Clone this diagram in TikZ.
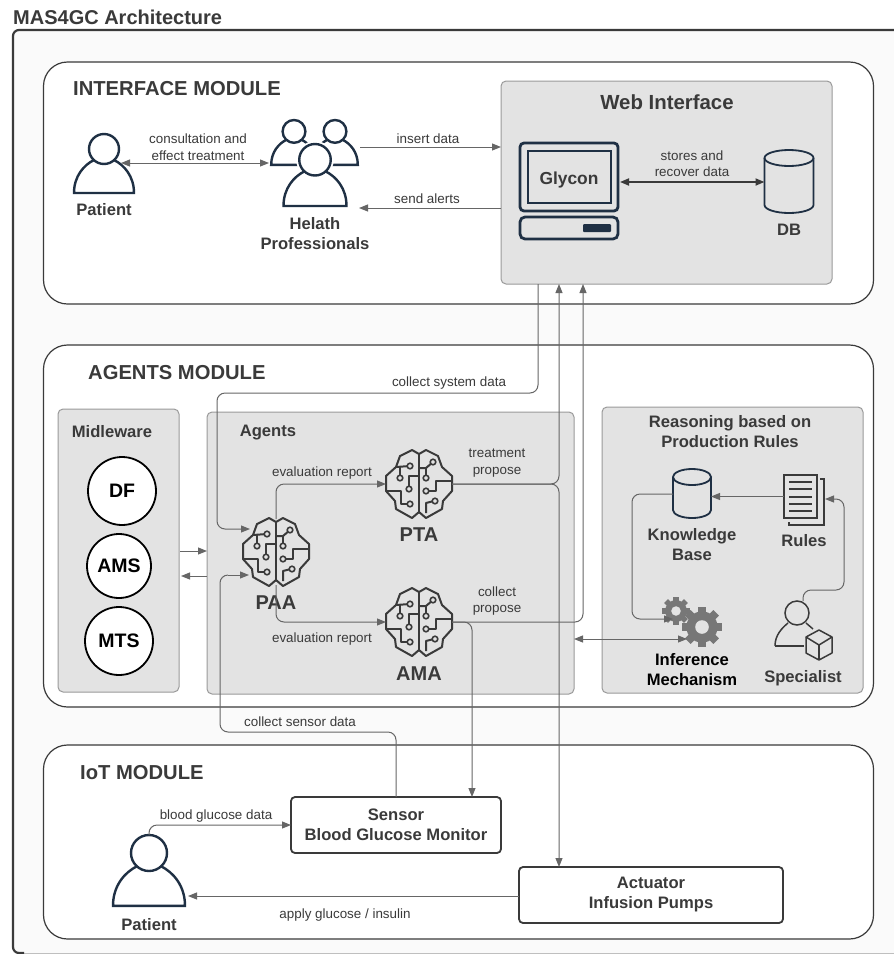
\documentclass[tikz,border=0pt]{standalone}
\usepackage{fontspec}
\setmainfont{Liberation Sans}
\usetikzlibrary{arrows.meta}

\definecolor{navy}{HTML}{1F3044}
\definecolor{panelgray}{HTML}{E3E3E3}
\definecolor{edgegray}{HTML}{9A9A9A}
\definecolor{flowgray}{HTML}{666666}
\definecolor{geargray}{HTML}{777777}
\definecolor{inkgray}{HTML}{3A3A3A}

\tikzset{
	module/.style = {draw=inkgray, fill=white, line width=1.2pt, rounded corners=24pt, inner sep=0, outer sep=0},
	panel/.style = {draw=edgegray, fill=panelgray, line width=1pt, rounded corners=5pt, inner sep=0, outer sep=0},
	devbox/.style = {draw=inkgray, fill=white, line width=1.8pt, rounded corners=4pt, inner sep=0, outer sep=0},
	service/.style = {draw=black, fill=white, circle, line width=1.8pt, inner sep=0, font=\fontsize{19.5}{22}\selectfont\bfseries},
	flow/.style = {draw=flowgray, line width=1pt, -{Triangle[length=9pt,width=7pt]}},
	bothflow/.style = {draw=flowgray, line width=1pt, {Triangle[length=9pt,width=7pt]}-{Triangle[length=9pt,width=7pt]}},
	plainflow/.style = {draw=flowgray, line width=1pt},
	modtitle/.style = {text=inkgray, inner sep=0, yshift=-0.8pt, font=\fontsize{20.2}{22}\selectfont\bfseries},
	partname/.style = {text=inkgray, inner sep=0, yshift=-0.8pt, align=center, font=\fontsize{16.6}{20}\selectfont\bfseries},
	brainname/.style = {text=inkgray, inner sep=0, yshift=-0.8pt, font=\fontsize{20}{22}\selectfont\bfseries},
	flowtext/.style = {text=inkgray, inner sep=0, yshift=-0.8pt, align=center, font=\fontsize{13.4}{16.5}\selectfont},
}

% person icon: x, y of head top, scale
\newcommand{\tikzperson}[3]{
	\begin{scope}[shift={(#1,#2)}, scale=#3]
		\path[draw=white, line width=6pt, fill=white] (-30,59) .. controls (-30,42) and (-20,31) .. (-10,26) -- (10,26) .. controls (20,31) and (30,42) .. (30,59) -- cycle;
		\path[draw=white, line width=6pt, fill=white] (0,15) circle (15);
		\draw[navy, line width=2.4pt, fill=white] (-10,26) .. controls (-20,31) and (-30,42) .. (-30,59) -- (30,59) .. controls (30,42) and (20,31) .. (10,26);
		\draw[navy, line width=2.4pt, fill=white] (0,15) circle (15);
	\end{scope}
}

% brain icon: name, x, y
\newcommand{\tikzbrain}[3]{
	\node[minimum size=66pt, inner sep=0, outer sep=0] (#1) at (#2,#3) {};
	\begin{scope}[shift={(#2,#3)}, inkgray, line width=2pt, line join=round]
		\draw (0,-30) -- (-7,-34) -- (-19,-28) -- (-23,-17) -- (-33,-8) -- (-33,7) -- (-24,17) -- (-23,25) -- (-7,34) -- (0,28) -- (7,34) -- (23,25) -- (24,17) -- (33,7) -- (33,-8) -- (23,-17) -- (19,-28) -- (7,-34) -- cycle;
		\draw (0,-30) -- (0,28);
		\draw (-23,-17) -- (-9,-18);
		\draw (-19,-17) -- (-19,-6);
		\draw (0,-8) -- (-10,-8) -- (-10,5);
		\draw (-33,7) -- (-18,7) -- (-18,20) -- (-9,20);
		\draw (0,-16) -- (7,-16) -- (14,-22);
		\draw (7,-16) -- (7,-6);
		\draw (7,7) -- (17,7) -- (17,-3) -- (33,-3);
		\draw (7,29) -- (7,19) -- (15,17);
		\foreach \dotx/\doty in {-9/-18, -19/-6, -10/5, -9/20, 14/-22, 7/-6, 7/7, 16/17}
			\draw[fill=panelgray, line width=1.6pt] (\dotx,\doty) circle (2.8);
	\end{scope}
}

% cylinder icon: name, x, y top, half width, height
\newcommand{\tikzdb}[5]{
	\node[minimum width=2*#4 pt, minimum height=#5 pt, inner sep=0, outer sep=0] (#1) at (#2,#3+#5/2) {};
	\begin{scope}[shift={(#2,#3)}, navy, line width=1.8pt]
		\draw (-#4,8) -- (-#4,#5-8) arc[start angle=180, end angle=360, x radius=#4, y radius=-8] -- (#4,8);
		\draw (0,8) ellipse[x radius=#4, y radius=8];
	\end{scope}
}

% gear icon: x, y, radius
\newcommand{\tikzgear}[3]{
	\begin{scope}[shift={(#1,#2)}]
		\foreach \toothangle in {0,45,...,315}
			\fill[geargray, rotate=\toothangle] (-0.2*#3,0) rectangle (0.2*#3,#3);
		\fill[geargray] (0,0) circle (0.78*#3);
		\fill[panelgray] (0,0) circle (0.34*#3);
	\end{scope}
}

\begin{document}
\begin{tikzpicture}[x=1pt, y=-1pt]
	\useasboundingbox (0,0) rectangle (894,954);

	% outer frame
	\fill[white] (0,0) rectangle (894,954);
	\fill[black!2] (13,30) rectangle (894,953);
	\draw[black!25, line width=1pt] (19,953) -- (894,953);
	\draw[inkgray, line width=2.2pt, rounded corners=6pt] (894,30) -- (13,30) -- (13,953) -- (24,953);
	\node[anchor=west, text=inkgray, inner sep=0, font=\fontsize{20}{22}\selectfont\bfseries] (title) at (13,17) {MAS4GC Architecture};

	% modules
	\node[module, minimum width=830pt, minimum height=242pt] (interface) at (458.5,183) {};
	\node[module, minimum width=830pt, minimum height=362pt] (agents) at (458.5,526) {};
	\node[module, minimum width=830pt, minimum height=194pt] (iot) at (458.5,842) {};
	\node[modtitle, anchor=west] (interfacetitle) at (73,88) {INTERFACE MODULE};
	\node[modtitle, anchor=west] (agentstitle) at (88,372) {AGENTS MODULE};
	\node[modtitle, anchor=west] (iottitle) at (80,772) {IoT MODULE};

	% panels
	\node[panel, minimum width=331pt, minimum height=203pt] (web) at (666.5,182.5) {};
	\node[panel, minimum width=121pt, minimum height=283pt] (midleware) at (118.5,550.5) {};
	\node[panel, minimum width=367pt, minimum height=282pt] (agentpanel) at (390.5,553) {};
	\node[panel, minimum width=261pt, minimum height=286pt] (reasoning) at (732.5,550) {};

	\node[partname, font=\fontsize{20.4}{22}\selectfont\bfseries] (webtitle) at (667,101) {Web Interface};
	\node[partname] (midlewaretitle) at (112,431) {Midleware};
	\node[partname] (agentstext) at (268,432) {Agents};
	\node[partname] (reasoningtitle) at (730,431) {Reasoning based on\\Production Rules};

	% patient and professionals
	\tikzperson{104}{134}{1}
	\node[partname] (patient) at (104,209) {Patient};
	\tikzperson{294}{120}{0.76}
	\tikzperson{335}{120}{0.76}
	\tikzperson{315}{144}{1.05}
	\node[partname] (health) at (315,233) {Helath\\Professionals};
	\coordinate (patientside) at (121,163);
	\coordinate (healthside) at (269,163);
	\coordinate (healthin) at (359,208);
	\coordinate (healthout) at (360,147);
	\draw[bothflow] (patientside) -- (healthside);
	\draw[flow] (healthout) -- (healthout -| web.west);
	\draw[flow] (healthin -| web.west) -- (healthin);
	\node[flowtext] (consulttext) at (198,146.5) {consultation and\\effect treatment};
	\node[flowtext] (inserttext) at (428,138) {insert data};
	\node[flowtext] (alerttext) at (427,198) {send alerts};

	% glycon terminal
	\draw[navy, line width=2.8pt, rounded corners=4pt, fill=panelgray] (520,143) rectangle (618,211);
	\draw[navy, line width=2.8pt] (528,151) rectangle (611,203);
	\node[partname, font=\fontsize{17.4}{20}\selectfont\bfseries] (glycon) at (569,179) {Glycon};
	\draw[navy, line width=2.8pt, rounded corners=5pt] (520,217) rectangle (618,239);
	\fill[navy, rounded corners=1pt] (583,224) rectangle (611,232);
	\tikzdb{db}{789}{150}{24.5}{63}
	\node[partname] (dbtext) at (789,229) {DB};
	\coordinate (glyconside) at (620,182);
	\draw[bothflow, draw=inkgray, line width=1.8pt] (glyconside) -- (glyconside -| db.west);
	\node[flowtext] (storetext) at (692,163) {stores and\\recover data};

	% midleware services
	\node[service, minimum size=68pt] (df) at (122,491) {DF};
	\node[service, minimum size=64pt] (ams) at (119,566) {AMS};
	\node[service, minimum size=68pt] (mts) at (119,641) {MTS};

	% agents
	\tikzbrain{paa}{276}{552}
	\tikzbrain{pta}{419}{484}
	\tikzbrain{ama}{419}{622}
	\node[brainname] (paatext) at (276,602) {PAA};
	\node[brainname] (ptatext) at (419,534) {PTA};
	\node[brainname] (amatext) at (419,673) {AMA};

	\coordinate (paasystem) at (250,529);
	\coordinate (paasensor) at (249,575);
	\coordinate (midout) at (180,551);
	\coordinate (midin) at (181,576);
	\draw[flow] (midout) -- (midout -| agentpanel.west);
	\draw[flow] (midin -| agentpanel.west) -- (midin);
	\draw[flow, rounded corners=8pt] (538,0 |- web.south) -- (538,393) -- (217,393) -- (217,529) -- (paasystem);
	\draw[flow, rounded corners=8pt] (paa.north) -- (276,484) -- (pta.west);
	\draw[flow, rounded corners=8pt] (paa.south) -- (276,622) -- (ama.west);
	\draw[flow, rounded corners=8pt] (pta.east) -- (559,484) -- (559,0 |- web.south);
	\draw[flow, rounded corners=8pt] (ama.east) -- (583,622) -- (583,0 |- web.south);
	\node[flowtext] (systemtext) at (449,382) {collect system data};
	\node[flowtext] (evaltop) at (322,472) {evaluation report};
	\node[flowtext] (evalbottom) at (322,638) {evaluation report};
	\node[flowtext] (treattext) at (497,462.5) {treatment\\propose};
	\node[flowtext] (collecttext) at (497,600) {collect\\propose};

	% reasoning
	\tikzdb{kb}{692}{469}{19}{49}
	\node[partname] (kbtext) at (692,544) {Knowledge\\Base};
	\draw[inkgray, line width=1.5pt] (784,475) rectangle (817,518);
	\draw[inkgray, line width=1.5pt] (820,479) -- (824,479) -- (824,525) -- (789,525) -- (789,522);
	\node[minimum width=33pt, minimum height=43pt, inner sep=0, outer sep=0] (rules) at (800.5,496.5) {};
	\foreach \liney/\linestart/\lineend in {482/789/812, 489/789/812, 497/789/812, 504/789/812, 511/789/812}
		\draw[inkgray, line width=1.5pt] (\linestart,\liney) -- (\lineend,\liney);
	\node[partname] (rulestext) at (804,540) {Rules};
	\draw[flow] (rules.west) -- (kb.east |- rules.west);

	\tikzgear{676}{611}{14}
	\tikzgear{702}{627}{20}
	\coordinate (gearin) at (673,619);
	\coordinate (gearside) at (687,639);
	\coordinate (kbside) at (673,494);
	\draw[flow, rounded corners=8pt] (kbside) -- (632,494) -- (632,619) -- (gearin);
	\draw[bothflow] (agentpanel.east |- gearside) -- (gearside);
	\node[partname, text=black] (inference) at (692,669) {Inference\\Mechanism};

	% specialist
	\draw[inkgray, line width=1.5pt] (797,613) circle (12);
	\draw[inkgray, line width=1.5pt] (775,646) .. controls (775,635) and (782,628) .. (788,623);
	\draw[inkgray, line width=1.5pt] (775,646) -- (804,646);
	\draw[inkgray, line width=1.5pt] (806,623) -- (813,629);
	\begin{scope}[shift={(819,645)}, inkgray, line width=1.5pt, line join=round]
		\draw (0,-15) -- (13,-8) -- (13,8) -- (0,15) -- (-13,8) -- (-13,-8) -- cycle;
		\draw (-13,-8) -- (0,0) -- (13,-8);
		\draw (0,0) -- (0,15);
	\end{scope}
	\coordinate (specialisttop) at (803,601);
	\coordinate (rulesin) at (825,499);
	\draw[flow, rounded corners=8pt] (specialisttop) -- (803,590) -- (844,590) -- (844,499) -- (rulesin);
	\node[partname] (specialist) at (803,677) {Specialist};

	% iot devices
	\node[devbox, minimum width=210pt, minimum height=56pt] (sensor) at (396,825) {};
	\node[partname] (sensortext) at (396,824) {Sensor\\Blood Glucose Monitor};
	\node[devbox, minimum width=264pt, minimum height=56pt] (actuator) at (651,895) {};
	\node[partname] (actuatortext) at (651,894) {Actuator\\Infusion Pumps};

	\tikzperson{149}{835}{1.2}
	\node[partname] (patienttwo) at (149,924) {Patient};
	\coordinate (patienttop) at (149,835);
	\coordinate (patientside2) at (188,896);
	\draw[flow, rounded corners=8pt] (patienttop) -- (149,825) -- (sensor.west |- 0,825);
	\draw[flow] (actuator.west |- patientside2) -- (patientside2);
	\node[flowtext] (glucosetext) at (216,815) {blood glucose data};
	\node[flowtext] (applytext) at (345,914) {apply glucose / insulin};

	\draw[plainflow, rounded corners=8pt] (sensor.north) -- (396,732) -- (220,732) -- (220,575) -- (228,575);
	\draw[flow] (228,575) -- (paasensor);
	\draw[flow, rounded corners=8pt] (ama.east) -- (472,622) -- (472,0 |- sensor.north);
	\draw[flow, rounded corners=8pt] (pta.east) -- (559,484) -- (559,0 |- actuator.north);
	\node[flowtext] (sensortextb) at (300,721) {collect sensor data};
\end{tikzpicture}
\end{document}
